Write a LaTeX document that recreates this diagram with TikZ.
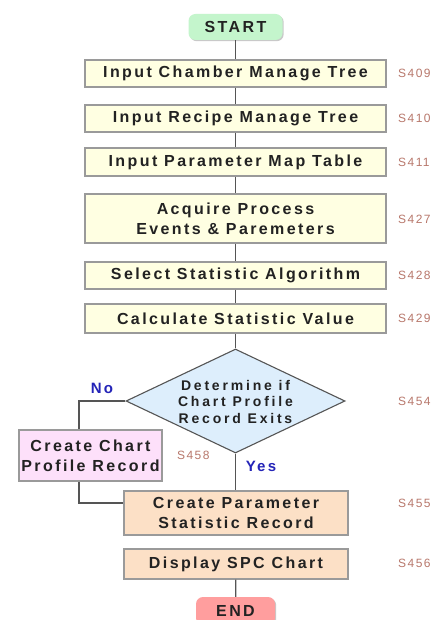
\documentclass[tikz,border=0pt]{standalone}
\usepackage{fontspec}
\setmainfont{Liberation Sans}
\newfontfamily\boxfont[LetterSpace=15]{Liberation Sans}
\newfontfamily\decfont[LetterSpace=20]{Liberation Sans}
\newfontfamily\stepfont[LetterSpace=12]{Liberation Sans}
\usetikzlibrary{shapes.geometric,shadows}

\definecolor{linegray}{HTML}{555555}
\definecolor{bordergray}{HTML}{9A9A9A}
\definecolor{textdark}{HTML}{222222}
\definecolor{ivory}{HTML}{FFFFE2}
\definecolor{peach}{HTML}{FCE0C6}
\definecolor{lilac}{HTML}{FDE0FA}
\definecolor{skyfill}{HTML}{DDEEFC}
\definecolor{mint}{HTML}{C4F5CC}
\definecolor{salmon}{HTML}{FF9E9E}
\definecolor{steptext}{HTML}{B8786C}
\definecolor{answer}{HTML}{2424B8}

\begin{document}
\begin{tikzpicture}[x=1pt,y=-1pt,
  boxtext/.style={font=\boxfont\bfseries\fontsize{16}{20}\selectfont, text=textdark},
  softshadow/.style={drop shadow={shadow xshift=1.2pt, shadow yshift=-1.2pt, opacity=0.35, fill=black!60}},
  procbox/.style={boxtext, draw=bordergray, line width=1.3pt, fill=ivory, rectangle,
    minimum width=301pt, inner sep=0pt, align=center, softshadow},
  recbox/.style={procbox, fill=peach, minimum width=224pt},
  sidebox/.style={procbox, fill=lilac, minimum width=143pt},
  terminal/.style={boxtext, rectangle, rounded corners=7pt, inner sep=0pt, softshadow},
  decision/.style={diamond, draw=linegray, line width=1.1pt, fill=skyfill, inner sep=0pt,
    minimum width=219pt, minimum height=104pt},
  dectext/.style={font=\decfont\bfseries\fontsize{14}{16.5}\selectfont, text=textdark, align=center, inner sep=0pt},
  steplabel/.style={font=\stepfont\fontsize{12}{13}\selectfont, text=steptext, anchor=west, inner sep=0pt},
  answerlabel/.style={font=\boxfont\bfseries\fontsize{15}{16}\selectfont, text=answer, inner sep=0pt},
  link/.style={draw=linegray, line width=1.3pt}
]
\useasboundingbox (0,0) rectangle (443,620);
\fill[white] (0,0) rectangle (443,620);

% terminals
\node[terminal, fill=mint, minimum width=94pt, minimum height=26pt] (start) at (235.5,27) {START};
\node[terminal, fill=salmon, minimum width=79pt, minimum height=28pt] (finish) at (235.5,611) {END};

% process steps
\node[procbox, minimum height=27pt] (chamber) at (235.5,73.5) {Input Chamber Manage Tree};
\node[procbox, minimum height=27pt] (recipe) at (235.5,118.5) {Input Recipe Manage Tree};
\node[procbox, minimum height=28pt] (parammap) at (235.5,162) {Input Parameter Map Table};
\node[procbox, minimum height=49pt] (acquire) at (235.5,218.5) {Acquire Process\\Events \& Paremeters};
\node[procbox, minimum height=27pt] (algo) at (235.5,275.5) {Select Statistic Algorithm};
\node[procbox, minimum height=29pt] (calc) at (235.5,318.5) {Calculate Statistic Value};

% decision
\node[decision] (check) at (235.5,401) {};
\node[dectext] (checktext) at (235.5,401.5) {Determine if\\Chart Profile\\Record Exits};

% branch boxes
\node[sidebox, minimum height=51pt] (profile) at (90.5,455.5) {Create Chart\\Profile Record};
\node[recbox, minimum height=44pt] (statrec) at (236,513) {Create Parameter\\Statistic Record};
\node[recbox, minimum height=30pt] (spc) at (236,564) {Display SPC Chart};

% connectors
\draw[link] (start) -- (chamber);
\draw[link] (chamber) -- (recipe);
\draw[link] (recipe) -- (parammap);
\draw[link] (parammap) -- (acquire);
\draw[link] (acquire) -- (algo);
\draw[link] (algo) -- (calc);
\draw[link] (calc) -- (check.north);
\draw[link] (check.south) -- (check.south |- statrec.north);
\coordinate (nobend) at (79,401);
\coordinate (nodrop) at (79,503);
\draw[link] (check.west) -- (nobend) -- (nobend |- profile.north);
\draw[link] (nodrop |- profile.south) -- (nodrop) -- (nodrop -| statrec.west);
\draw[link] (spc) -- (finish);

% answers
\node[answerlabel] (nolabel) at (102,388) {No};
\node[answerlabel] (yeslabel) at (261,466) {Yes};

% step numbers
\node[steplabel] (s409) at (398,73.5) {S409};
\node[steplabel] (s410) at (398,118.5) {S410};
\node[steplabel] (s411) at (398,162) {S411};
\node[steplabel] (s427) at (398,219) {S427};
\node[steplabel] (s428) at (398,275.5) {S428};
\node[steplabel] (s429) at (398,318.5) {S429};
\node[steplabel] (s454) at (398,401) {S454};
\node[steplabel] (s458) at (177,455) {S458};
\node[steplabel] (s455) at (398,503) {S455};
\node[steplabel] (s456) at (398,563) {S456};
\end{tikzpicture}
\end{document}
